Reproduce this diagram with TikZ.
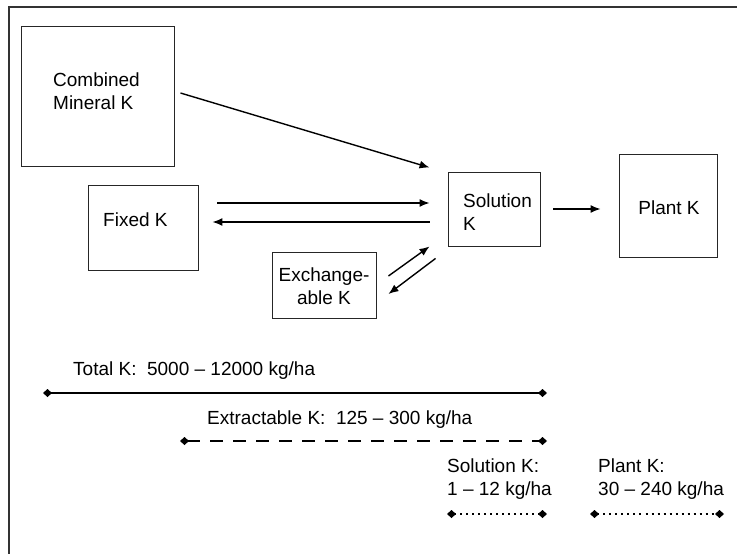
\documentclass[tikz,border=0pt]{standalone}
\usepackage{fontspec}
\setmainfont{Liberation Sans}
\usetikzlibrary{positioning,calc,arrows.meta}

\begin{document}
\begin{tikzpicture}[x=1pt,y=-1pt,
    box/.style={draw=black!85, line width=0.9pt, inner sep=0pt},
    txt/.style={font=\fontsize{19}{23}\selectfont, inner sep=0pt, align=left},
    flow/.style={-{Latex[length=10pt,width=8pt]}, line width=1.4pt},
    kline/.style={{Diamond[length=9pt,width=8pt]}-{Diamond[length=9pt,width=8pt]}}]
  \useasboundingbox (0,0) rectangle (737,554);
  \draw[line width=1.2pt, black!80] (9,560) -- (9,7) -- (745,7);

  % pools
  \node[box, minimum width=153pt, minimum height=140pt] (comb) at (97.5,96) {};
  \node[box, minimum width=110pt, minimum height=85pt] (fixed) at (143,227.5) {};
  \node[box, minimum width=92pt, minimum height=74pt] (sol) at (494,209) {};
  \node[box, minimum width=98pt, minimum height=103pt] (plant) at (668,205.5) {};
  \node[box, minimum width=104pt, minimum height=66pt] (exch) at (324,285) {};

  \node[txt, anchor=west] (combt) at (53,91) {Combined\\Mineral K};
  \node[txt, anchor=west] (fixedt) at (103,220) {Fixed K};
  \node[txt, anchor=west] (solt) at (463,212) {Solution\\K};
  \node[txt] (plantt) at (669,208) {Plant K};
  \node[txt, align=center] (excht) at (324,286) {Exchange-\\able K};

  % flows
  \draw[flow] ([shift={(6,-3)}]comb.east) -- ([shift={(-18,-4)}]sol.north west);
  \draw[flow, shorten <=19pt, shorten >=18pt] (fixed.east |- 0,203) -- (sol.west |- 0,203);
  \draw[flow, shorten <=18pt, shorten >=14pt] (sol.west |- 0,222) -- (fixed.east |- 0,222);
  \draw[flow] ([shift={(12,-9)}]exch.east) -- ([shift={(-18,0)}]sol.south west);
  \draw[flow] ([shift={(-12,12)}]sol.south west) -- ([shift={(12,9)}]exch.east);
  \draw[flow, shorten <=13pt, shorten >=18pt] (sol.east) -- (plant.west |- sol.east);

  % ranges
  \coordinate (tot1) at (43,393);   \coordinate (tot2) at (547,393);
  \coordinate (ext1) at (180,441);  \coordinate (ext2) at (547,441);
  \coordinate (sr1) at (447,514);   \coordinate (sr2) at (547,514);
  \coordinate (pr1) at (590,514);   \coordinate (pr2) at (724,514);

  \node[txt, anchor=west] (tott) at (73,371) {Total K:\ \ 5000 – 12000 kg/ha};
  \node[txt, anchor=west] (extt) at (207,420) {Extractable K:\ \ 125 – 300 kg/ha};
  \node[txt, anchor=west] (srt) at (447,479) {Solution K:\\1 – 12 kg/ha};
  \node[txt, anchor=west] (prt) at (598,479) {Plant K:\\30 – 240 kg/ha};

  \draw[kline, line width=2.4pt] (tot1) -- (tot2);
  \draw[kline, line width=2.6pt, dash pattern=on 13pt off 10pt] (ext1) -- (ext2);
  \foreach \a/\b in {sr1/sr2, pr1/pr2}
    \draw[kline, line width=2pt, dash pattern=on 2pt off 4pt] (\a) -- (\b);
\end{tikzpicture}
\end{document}
